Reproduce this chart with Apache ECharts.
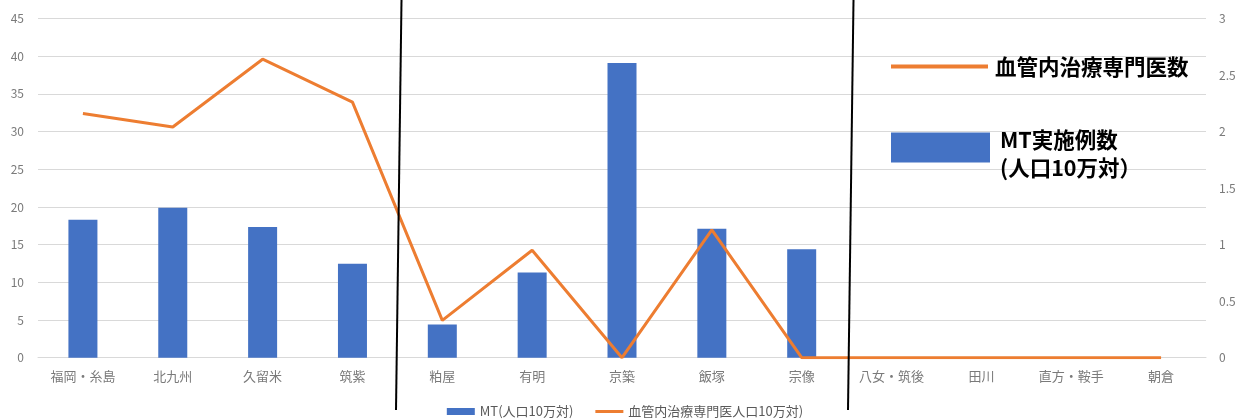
<!DOCTYPE html>
<html>
<head>
<meta charset="utf-8">
<script src="https://cdn.jsdelivr.net/npm/echarts@6/dist/echarts.min.js"></script>
<style>
html,body{margin:0;padding:0;background:#fff;}
#main{width:1250px;height:419px;}
</style>
</head>
<body>
<div id="main"></div>
<script>
var categories = ['福岡・糸島','北九州','久留米','筑紫','粕屋','有明','京築','飯塚','宗像','八女・筑後','田川','直方・鞍手','朝倉'];
var mtValues = [18.3, 19.9, 17.35, 12.45, 4.4, 11.3, 39.1, 17.1, 14.4, 0, 0, 0, 0];
var specialistValues = [2.16, 2.04, 2.64, 2.26, 0.33, 0.95, 0, 1.13, 0, 0, 0, 0, 0];
var seriesNames = ['MT(人口10万対)', '血管内治療専門医人口10万対)'];
var annotationLine = '血管内治療専門医数';
var annotationBar1 = 'MT実施例数';
var annotationBar2 = '(人口10万対）';

var FONT = '"Noto Sans CJK JP", "Noto Sans", sans-serif';
var chart = echarts.init(document.getElementById('main'), null, {renderer: 'canvas'});
var lineIcon = 'path://M0,0 L0.01,0 L0,0 Z M0,2 L28,2 L28,5 L0,5 Z M0,7 L0.01,7 L0,7 Z';
var option = {
  animation: false,
  textStyle: {fontFamily: FONT},
  grid: {left: 38, right: 44, top: 18.5, bottom: 61.3, containLabel: false},
  legend: {
    data: [
      {name: seriesNames[0], icon: 'rect'},
      {name: seriesNames[1], icon: lineIcon}
    ],
    left: 'center',
    top: 400,
    itemWidth: 28,
    itemHeight: 7,
    itemGap: 22,
    textStyle: {color: '#595959', fontSize: 13, fontFamily: FONT}
  },
  xAxis: {
    type: 'category',
    data: categories,
    boundaryGap: true,
    axisTick: {show: false},
    axisLine: {show: true, lineStyle: {color: '#d9d9d9', width: 1}},
    axisLabel: {color: '#7a7a7a', fontSize: 13, margin: 12, interval: 0, fontFamily: FONT}
  },
  yAxis: [
    {
      type: 'value', min: 0, max: 45, interval: 5,
      axisLine: {show: false}, axisTick: {show: false},
      axisLabel: {color: '#7a7a7a', fontSize: 12, margin: 14, fontFamily: FONT},
      splitLine: {show: true, lineStyle: {color: '#d9d9d9', width: 1}}
    },
    {
      type: 'value', min: 0, max: 3, interval: 0.5,
      axisLine: {show: false}, axisTick: {show: false},
      axisLabel: {color: '#7a7a7a', fontSize: 12, margin: 13, fontFamily: FONT},
      splitLine: {show: false}
    }
  ],
  series: [
    {
      name: seriesNames[0],
      type: 'bar',
      yAxisIndex: 0,
      data: mtValues,
      barWidth: 29,
      itemStyle: {color: '#4472C4'}
    },
    {
      name: seriesNames[1],
      type: 'line',
      yAxisIndex: 1,
      data: specialistValues,
      symbol: 'none',
      lineStyle: {color: '#ED7D31', width: 3},
      itemStyle: {color: '#ED7D31'}
    }
  ],
  graphic: [
    {type: 'line', shape: {x1: 401.5, y1: 0, x2: 396, y2: 410}, style: {stroke: '#000', lineWidth: 2}, z: 100},
    {type: 'line', shape: {x1: 853.5, y1: 0, x2: 848, y2: 410}, style: {stroke: '#000', lineWidth: 2}, z: 100},
    {type: 'line', shape: {x1: 891, y1: 66.5, x2: 988, y2: 66.5}, style: {stroke: '#ED7D31', lineWidth: 4}, z: 100},
    {type: 'text', x: 995, y: 67, style: {text: annotationLine, font: 'bold 21.5px ' + FONT, fill: '#000', verticalAlign: 'middle'}, z: 100},
    {type: 'rect', shape: {x: 891, y: 132.5, width: 99, height: 30}, style: {fill: '#4472C4'}, z: 100},
    {type: 'text', x: 1000, y: 140, style: {text: annotationBar1, font: 'bold 21.5px ' + FONT, fill: '#000', verticalAlign: 'middle'}, z: 100},
    {type: 'text', x: 1000, y: 168, style: {text: annotationBar2, font: 'bold 21.5px ' + FONT, fill: '#000', verticalAlign: 'middle'}, z: 100}
  ]
};
chart.setOption(option);
</script>
</body>
</html>
